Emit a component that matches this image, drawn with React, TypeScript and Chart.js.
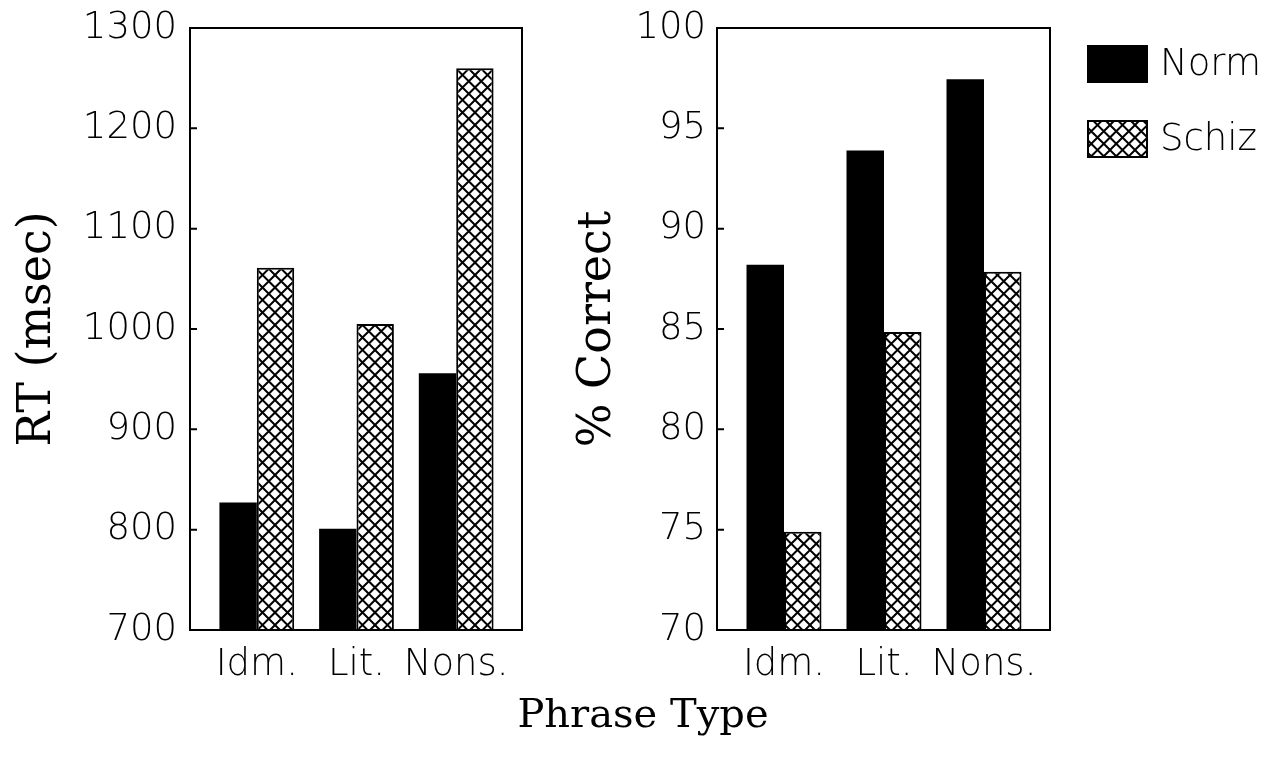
import React, { useEffect, useRef } from 'react';
import { Chart, registerables } from 'chart.js';

Chart.register(...registerables);

// ---- data ----
const categories = ['Idm.', 'Lit.', 'Nons.'];
const seriesNames = ['Norm', 'Schiz'];
const rtNorm = [827, 801, 956];
const rtSchiz = [1061, 1005, 1260];
const pctNorm = [88.2, 93.9, 97.45];
const pctSchiz = [74.9, 84.85, 87.85];
const rtTicks = [700, 800, 900, 1000, 1100, 1200, 1300];
const pctTicks = [70, 75, 80, 85, 90, 95, 100];
const rtTitle = 'RT (msec)';
const pctTitle = '% Correct';
const xTitle = 'Phrase Type';

const SANS = "'DejaVu Sans', sans-serif";
const SERIF = "'DejaVu Serif', serif";
const tickFont = { family: SANS, size: 37, weight: '200' as any };
const titleFont = { family: SERIF, size: 46, weight: 'normal' as any };

function makeHatch(): CanvasPattern | string {
  const c = document.createElement('canvas');
  c.width = 25;
  c.height = 25;
  const g = c.getContext('2d');
  if (!g) return '#fff';
  g.fillStyle = '#fff';
  g.fillRect(0, 0, 25, 25);
  g.strokeStyle = '#000';
  g.lineWidth = 2;
  g.beginPath();
  for (const k of [-25, -12.5, 0, 12.5, 25]) {
    g.moveTo(k - 5, -5);
    g.lineTo(k + 30, 30);
  }
  for (const k of [0, 12.5, 25, 37.5, 50]) {
    g.moveTo(k + 5, -5);
    g.lineTo(k - 30, 30);
  }
  g.stroke();
  return g.createPattern(c, 'repeat') || '#fff';
}

const framePlugin = {
  id: 'frame',
  afterDatasetsDraw(chart: any) {
    const { ctx, chartArea: a, scales } = chart;
    ctx.save();
    ctx.strokeStyle = '#000';
    ctx.lineWidth = 2;
    ctx.strokeRect(a.left, a.top, a.right - a.left, a.bottom - a.top);
    const y = scales.y;
    ctx.beginPath();
    y.ticks.forEach((_: any, i: number) => {
      const p = y.getPixelForTick(i);
      ctx.moveTo(a.left, p);
      ctx.lineTo(a.left + 7, p);
    });
    ctx.stroke();
    ctx.restore();
  },
};

const sideLegendPlugin = {
  id: 'sideLegend',
  afterDraw(chart: any) {
    const { ctx, chartArea: a } = chart;
    ctx.save();
    chart.data.datasets.forEach((ds: any, i: number) => {
      const x = a.right + 37;
      const y = a.top + 17 + i * 75;
      ctx.fillStyle = ds.backgroundColor;
      ctx.fillRect(x, y, 61, 38);
      ctx.strokeStyle = '#000';
      ctx.lineWidth = 2;
      ctx.strokeRect(x + 1, y + 1, 59, 36);
      ctx.fillStyle = '#000';
      ctx.font = `200 37px ${SANS}`;
      ctx.textBaseline = 'middle';
      ctx.textAlign = 'left';
      ctx.fillText(ds.label, x + 73, y + 20);
    });
    ctx.restore();
  },
};

function makeConfig(
  norm: number[],
  schiz: number[],
  ticks: number[],
  title: string,
  yWidth: number,
  padRight: number,
  tickPad: number,
  hatch: CanvasPattern | string,
  withLegend: boolean
): any {
  return {
    type: 'bar',
    data: {
      datasets: [
        {
          label: seriesNames[0],
          data: categories.map((_, i) => ({ x: i + 1, y: norm[i] })),
          backgroundColor: '#000',
          borderWidth: 0,
          categoryPercentage: 0.75,
          barPercentage: 1,
        },
        {
          label: seriesNames[1],
          data: categories.map((_, i) => ({ x: i + 1, y: schiz[i] })),
          backgroundColor: hatch,
          borderColor: '#000',
          borderWidth: 2,
          categoryPercentage: 0.75,
          barPercentage: 1,
        },
      ],
    },
    options: {
      responsive: false,
      animation: false,
      devicePixelRatio: 1,
      layout: { padding: { top: 28, right: padRight, left: 0, bottom: 0 } },
      plugins: { legend: { display: false }, tooltip: { enabled: false } },
      scales: {
        x: {
          type: 'linear',
          offset: false,
          min: 0.33,
          max: 3.66,
          afterBuildTicks: (s: any) => {
            s.ticks = categories.map((_, i) => ({ value: i + 1 }));
          },
          afterFit: (s: any) => {
            s.height = 127;
            s.paddingLeft = 0;
            s.paddingRight = 0;
          },
          grid: { display: false, offset: false },
          border: { display: false },
          ticks: {
            autoSkip: false,
            maxRotation: 0,
            padding: 5,
            color: '#000',
            font: tickFont,
            callback: (v: number) => categories[Math.round(v) - 1] ?? '',
          },
        },
        y: {
          min: ticks[0],
          max: ticks[ticks.length - 1],
          afterBuildTicks: (s: any) => {
            s.ticks = ticks.map((v) => ({ value: v }));
          },
          afterFit: (s: any) => {
            s.width = yWidth;
            s.paddingTop = 0;
            s.paddingBottom = 0;
          },
          grid: { display: false },
          border: { display: false },
          ticks: {
            padding: tickPad,
            color: '#000',
            font: tickFont,
            callback: (v: number) => String(v),
          },
          title: {
            display: true,
            text: title,
            color: '#000',
            font: titleFont,
            padding: { top: 10, bottom: 0 },
          },
        },
      },
    },
    plugins: withLegend ? [framePlugin, sideLegendPlugin] : [framePlugin],
  };
}

export default function App() {
  const leftRef = useRef<HTMLCanvasElement | null>(null);
  const rightRef = useRef<HTMLCanvasElement | null>(null);

  useEffect(() => {
    const hatch = makeHatch();
    const left = new Chart(
      leftRef.current as HTMLCanvasElement,
      makeConfig(rtNorm, rtSchiz, rtTicks, rtTitle, 190, 38, 5, hatch, false)
    );
    const right = new Chart(
      rightRef.current as HTMLCanvasElement,
      makeConfig(pctNorm, pctSchiz, pctTicks, pctTitle, 157, 219, 3, hatch, true)
    );
    return () => {
      left.destroy();
      right.destroy();
    };
  }, []);

  return (
    <div
      style={{
        position: 'absolute',
        left: 0,
        top: 0,
        width: 1269,
        height: 757,
        background: '#fff',
        overflow: 'hidden',
      }}
    >
      <canvas
        ref={leftRef}
        width={560}
        height={757}
        style={{ position: 'absolute', left: 0, top: 0, width: 560, height: 757 }}
      />
      <canvas
        ref={rightRef}
        width={709}
        height={757}
        style={{ position: 'absolute', left: 560, top: 0, width: 709, height: 757 }}
      />
      <div
        style={{
          position: 'absolute',
          left: 443,
          width: 400,
          top: 689,
          textAlign: 'center',
          fontFamily: SERIF,
          fontSize: 40,
          lineHeight: '48px',
          color: '#000',
        }}
      >
        {xTitle}
      </div>
    </div>
  );
}
